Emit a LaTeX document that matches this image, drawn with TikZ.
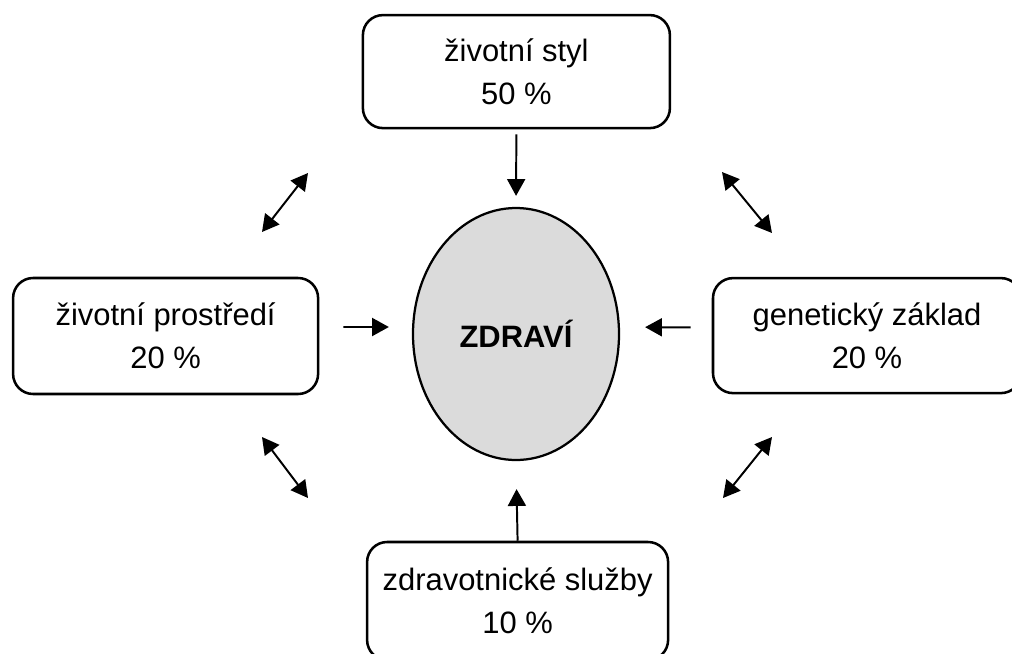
\documentclass[tikz,border=0pt]{standalone}
\usepackage{fontspec}
\setmainfont{Liberation Sans}
\usetikzlibrary{shapes.geometric, arrows.meta, positioning, calc}

\begin{document}
\begin{tikzpicture}[
  factor/.style={draw, line width=1.8pt, rounded corners=0.5cm, align=center, inner sep=0pt},
  arr/.style={line width=1.4pt, -{Triangle[length=0.42cm, width=0.45cm]}},
  dblarr/.style={line width=1.4pt, {Triangle[length=0.42cm, width=0.45cm]}-{Triangle[length=0.42cm, width=0.45cm]}}
]
  \useasboundingbox (0,0) rectangle (25.3,-16.325);
  \fontsize{22}{30.5}\selectfont

  % Centre
  \node[ellipse, draw, line width=1.6pt, fill=black!14, minimum width=5.15cm, minimum height=6.3cm, inner sep=0pt, font=\bfseries] (zdravi) at (12.9, -8.35) {ZDRAVÍ};

  % Factors
  \node[factor, minimum width=7.675cm, minimum height=2.825cm] (styl) at (12.91, -1.79) {životní styl\\50 \%};
  \node[factor, minimum width=7.625cm, minimum height=2.9cm] (prostredi) at (4.14, -8.40) {životní prostředí\\20 \%};
  \node[factor, minimum width=7.7cm, minimum height=2.875cm] (zaklad) at (21.675, -8.39) {genetický základ\\20 \%};
  \node[factor, minimum width=7.525cm, minimum height=2.95cm] (sluzby) at (12.94, -15.025) {zdravotnické služby\\10 \%};

  % Influences on health
  \draw[arr, shorten <=0.125cm, shorten >=0.275cm] (styl.south) -- (zdravi.north);
  \draw[arr, shorten >=0.7cm] (sluzby.north) -- (zdravi.south);
  \draw[arr, shorten <=0.6cm, shorten >=0.575cm] ([yshift=0.225cm]prostredi.east) -- ([yshift=0.175cm]zdravi.west);
  \draw[arr, shorten <=0.525cm, shorten >=0.625cm] ([yshift=0.2cm]zaklad.west) -- ([yshift=0.175cm]zdravi.east);

  % Mutual links
  \coordinate (tlA) at (6.55, -5.8);    \coordinate (tlB) at (7.7, -4.325);
  \coordinate (trA) at (18.05, -4.3);   \coordinate (trB) at (19.3, -5.825);
  \coordinate (blA) at (6.55, -10.925); \coordinate (blB) at (7.7, -12.45);
  \coordinate (brA) at (18.075, -12.45); \coordinate (brB) at (19.3, -10.925);
  \draw[dblarr] (tlA) -- (tlB);
  \draw[dblarr] (trA) -- (trB);
  \draw[dblarr] (blA) -- (blB);
  \draw[dblarr] (brA) -- (brB);
\end{tikzpicture}
\end{document}
